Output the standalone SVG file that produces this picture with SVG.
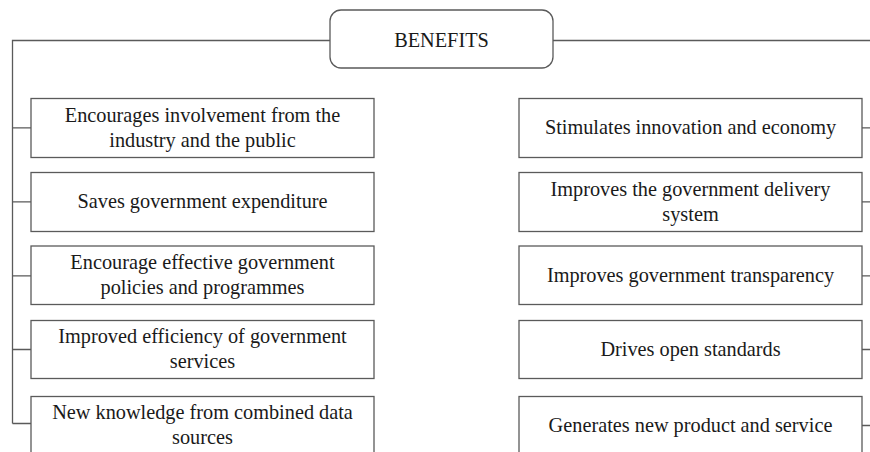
<svg xmlns="http://www.w3.org/2000/svg" width="870" height="452" viewBox="0 0 870 452">
<style>
.box{fill:#fff;stroke:#5a5a5a;stroke-width:1.3}
.ln{fill:none;stroke:#5a5a5a;stroke-width:1.3}
text{font-family:"Liberation Serif","Times New Roman",serif;font-size:20.3px;fill:#1a1a1a;text-anchor:middle}
</style>
<rect width="870" height="452" fill="#fff"/>
<g id="connectors">
<path class="ln" d="M330 40.5H12.5V423.5M553 40.5H870"/>
<path class="ln" d="M12.5 127.8H31M12.5 201.8H31M12.5 275.8H31M12.5 349.5H31M12.5 423.5H31"/>
<path class="ln" d="M862 127.8H870M862 201.8H870M862 275.8H870M862 349.5H870M862 425.5H870"/>
</g>
<g id="benefits">
<rect class="box" x="330" y="10" width="223" height="58" rx="11"/>
<text x="441.5" y="47">BENEFITS</text>
</g>
<g id="l1"><rect class="box" x="31" y="98.5" width="343" height="59"/><text x="202.5" y="121.8">Encourages involvement from the</text><text x="202.5" y="146.8">industry and the public</text></g>
<g id="l2"><rect class="box" x="31" y="172.5" width="343" height="59"/><text x="202.5" y="208.3">Saves government expenditure</text></g>
<g id="l3"><rect class="box" x="31" y="246" width="343" height="58.5"/><text x="202.5" y="269.3">Encourage effective government</text><text x="202.5" y="294.3">policies and programmes</text></g>
<g id="l4"><rect class="box" x="31" y="320.5" width="343" height="58"/><text x="202.5" y="343">Improved efficiency of government</text><text x="202.5" y="368">services</text></g>
<g id="l5"><rect class="box" x="31" y="396.5" width="343" height="59"/><text x="202.5" y="419">New knowledge from combined data</text><text x="202.5" y="444">sources</text></g>
<g id="r1"><rect class="box" x="519" y="98.5" width="343" height="59"/><text x="690.5" y="134.3">Stimulates innovation and economy</text></g>
<g id="r2"><rect class="box" x="519" y="172.5" width="343" height="59"/><text x="690.5" y="195.8">Improves the government delivery</text><text x="690.5" y="220.8">system</text></g>
<g id="r3"><rect class="box" x="519" y="246" width="343" height="58.5"/><text x="690.5" y="282">Improves government transparency</text></g>
<g id="r4"><rect class="box" x="519" y="320.5" width="343" height="58"/><text x="690.5" y="356">Drives open standards</text></g>
<g id="r5"><rect class="box" x="519" y="396.5" width="343" height="59"/><text x="690.5" y="432">Generates new product and service</text></g>
</svg>
